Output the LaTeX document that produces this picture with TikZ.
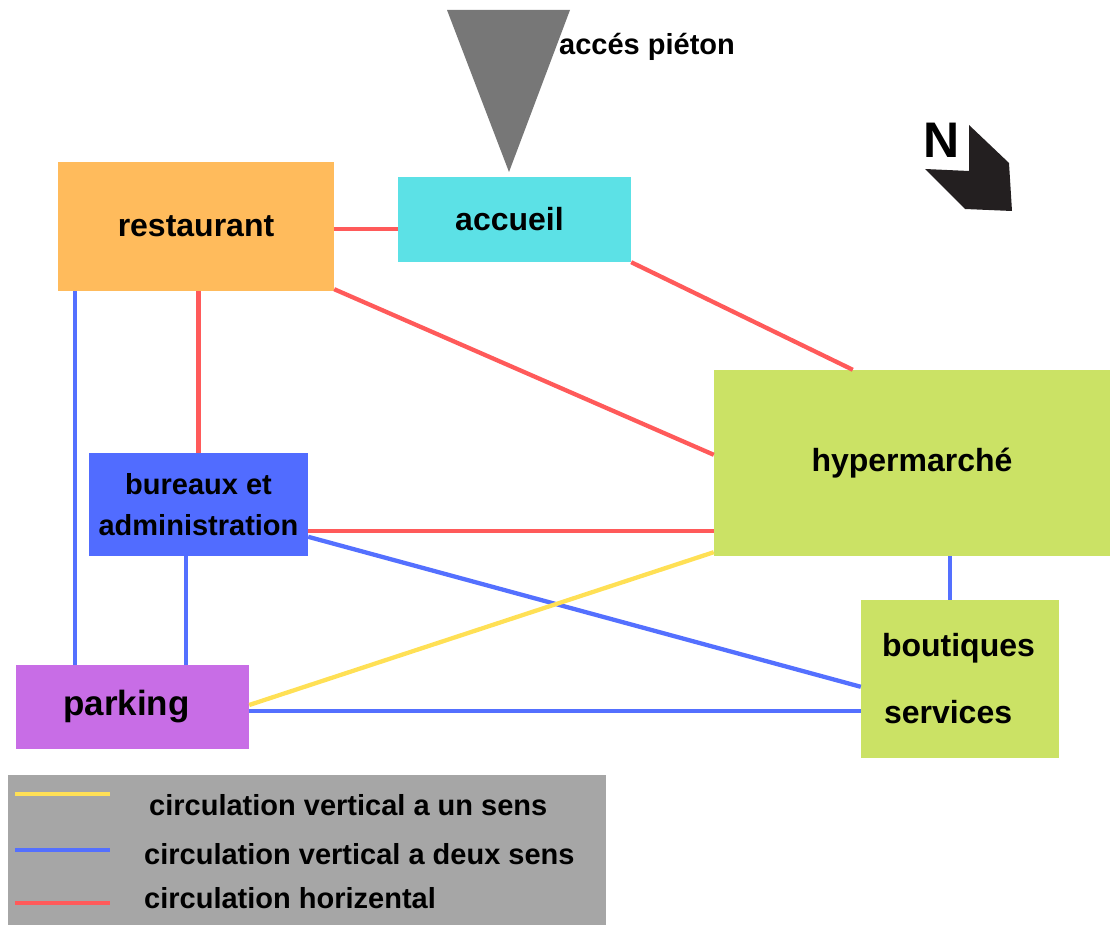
\documentclass[tikz,border=0pt]{standalone}
\usepackage{fontspec}
\setmainfont{Liberation Sans}
\usetikzlibrary{calc}
\definecolor{cOrange}{HTML}{FFBB5C}
\definecolor{cCyan}{HTML}{5CE1E6}
\definecolor{cGreen}{HTML}{CBE265}
\definecolor{cBlueBox}{HTML}{516CFF}
\definecolor{cPurple}{HTML}{C86DE6}
\definecolor{cRed}{HTML}{FF5A5A}
\definecolor{cBlue}{HTML}{5470FF}
\definecolor{cYellow}{HTML}{FFE055}
\definecolor{cGray}{HTML}{A6A6A6}
\definecolor{cTri}{HTML}{777777}
\definecolor{cDark}{HTML}{231F20}
\tikzset{
  box/.style={rectangle, inner sep=0pt, align=center, text=black,
    font=\bfseries\fontsize{32}{38}\selectfont},
  redlink/.style={draw=cRed, line width=4.3pt},
  bluelink/.style={draw=cBlue, line width=4.3pt},
  yellowlink/.style={draw=cYellow, line width=4.3pt},
  legtext/.style={anchor=west, inner sep=0pt, text=black,
    font=\bfseries\fontsize{29}{34}\selectfont},
}
\begin{document}
\begin{tikzpicture}[x=1pt,y=-1pt]
\useasboundingbox (0,0) rectangle (1114,925);

% boxes
\node[box, fill=cOrange, minimum width=276pt, minimum height=129pt] (restaurant) at (196,226.5) {restaurant};
\node[box, fill=cCyan, minimum width=233pt, minimum height=85pt] (accueil) at (514.5,219.5) {\hspace*{-10pt}accueil};
\node[box, fill=cGreen, minimum width=396pt, minimum height=186pt] (hyper) at (912,463) {\raisebox{-6pt}{hypermarché}};
\node[box, fill=cBlueBox, minimum width=219pt, minimum height=103pt,
  font=\bfseries\fontsize{29}{41}\selectfont] (bureaux) at (198.5,504.5) {bureaux et\\administration};
\node[box, fill=cPurple, minimum width=233pt, minimum height=84pt,
  font=\bfseries\fontsize{35}{40}\selectfont] (parking) at (132.5,707) {\hspace*{-12pt}parking};
\node[box, fill=cGreen, minimum height=158pt, text width=156pt, inner xsep=21pt, align=left,
  font=\bfseries\fontsize{32}{67}\selectfont] (boutiques) at (960,679) {boutiques\\\hspace*{2pt}services};

% pedestrian access
\coordinate (triA) at (447,10);
\coordinate (triB) at (570,10);
\coordinate (triC) at (509,172);
\fill[cTri] (triA) -- (triB) -- (triC) -- cycle;
\node[anchor=west, inner sep=0pt, font=\bfseries\fontsize{29}{34}\selectfont] (pieton) at (559,47) {accés piéton};

% north arrow
\fill[cDark] (969,125) -- (1009,163) -- (1012,211) -- (965,209) -- (925,169) -- (969,171) -- cycle;
\node[inner sep=0pt, font=\bfseries\fontsize{50}{50}\selectfont] (north) at (942,140) {N};

% connectors
\draw[redlink] ([yshift=-2.5pt]restaurant.east) -- ([yshift=-2.5pt]restaurant.east -| accueil.west);
\draw[redlink] (accueil.south east) -- ([xshift=139pt]hyper.north west);
\draw[redlink] ([yshift=2pt]restaurant.south east) -- ([yshift=-85pt]hyper.north west);
\draw[redlink] (bureaux.north) -- (bureaux.north |- restaurant.south);
\draw[bluelink] ([xshift=17pt]restaurant.south west) -- ([xshift=17pt]restaurant.south west |- parking.north);
\draw[redlink] ([yshift=-78pt]bureaux.north east) -- ([yshift=-78pt]bureaux.north east -| hyper.west);
\draw[bluelink] ([yshift=-84pt]bureaux.north east) -- ([yshift=-87pt]boutiques.north west);
\draw[bluelink] ([xshift=-12.5pt]bureaux.south) -- ([xshift=-12.5pt]bureaux.south |- parking.north);
\draw[yellowlink] ([yshift=2pt]parking.east) -- ([yshift=4pt]hyper.south west);
\draw[bluelink] ([yshift=-4pt]parking.east) -- ([yshift=-4pt]parking.east -| boutiques.west);
\draw[bluelink] ([xshift=38pt]hyper.south) -- ([xshift=38pt]hyper.south |- boutiques.north);

% legend
\node[rectangle, fill=cGray, inner sep=0pt, minimum width=598pt, minimum height=152pt] (legend) at (307,851) {};
\coordinate (ly1) at (15,794); \coordinate (ly2) at (110,794);
\coordinate (lb1) at (15,850); \coordinate (lb2) at (110,850);
\coordinate (lr1) at (15,903); \coordinate (lr2) at (110,903);
\draw[yellowlink] (ly1) -- (ly2);
\draw[bluelink] (lb1) -- (lb2);
\draw[redlink] (lr1) -- (lr2);
\node[legtext] (legone) at (149,805) {circulation vertical a un sens};
\node[legtext] (legtwo) at (144,854) {circulation vertical a deux sens};
\node[legtext] (legthree) at (144,898) {circulation horizental};
\end{tikzpicture}
\end{document}
